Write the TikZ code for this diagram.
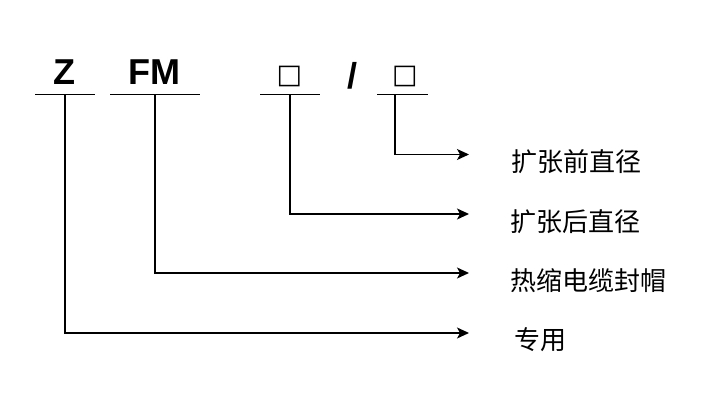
\documentclass[tikz,border=0pt]{standalone}
\usepackage{fontspec}
\setmainfont{Liberation Sans}
\newfontfamily\cjk{Noto Sans CJK SC}
\newfontfamily\symf{DejaVu Sans}
\usetikzlibrary{arrows.meta}
\begin{document}
\begin{tikzpicture}[x=1pt,y=-1pt,
  code/.style={inner sep=0pt, font=\fontsize{36}{36}\selectfont\bfseries},
  boxsym/.style={inner sep=0pt, font=\symf\fontsize{27}{27}\selectfont},
  label/.style={inner sep=0pt, anchor=west, font=\cjk\fontsize{26}{26}\selectfont},
  ln/.style={line width=1.3pt},
  arr/.style={line width=1.3pt, -{Stealth[length=12pt,width=11pt,inset=3pt]}}]
\useasboundingbox (0,0) rectangle (724,403);
% codes
\node[code] (z) at (64,72) {Z};
\node[code] (fm) at (154,72) {FM};
\node[boxsym] (b1) at (289.5,76) {□};
\node[code] (sl) at (352,76) {/};
\node[boxsym] (b2) at (405,76) {□};
% underlines
\coordinate (z1) at (35,94.5); \coordinate (z2) at (95,94.5);
\coordinate (f1) at (110,94.5); \coordinate (f2) at (200,94.5);
\coordinate (p1) at (260,94.5); \coordinate (p2) at (320,94.5);
\coordinate (q1) at (377,94.5); \coordinate (q2) at (428,94.5);
\draw[ln] (z1) -- (z2);
\draw[ln] (f1) -- (f2);
\draw[ln] (p1) -- (p2);
\draw[ln] (q1) -- (q2);
% labels
\node[label] (l1) at (511,162) {扩张前直径};
\node[label] (l2) at (510,222) {扩张后直径};
\node[label] (l3) at (510,281) {热缩电缆封帽};
\node[label] (l4) at (514,340) {专用};
% connectors
\coordinate (zt) at (65,94.5); \coordinate (zb) at (65,333); \coordinate (ze) at (469,333);
\coordinate (ft) at (155,94.5); \coordinate (fb) at (155,273); \coordinate (fe) at (469,273);
\coordinate (pt) at (290,94.5); \coordinate (pb) at (290,214); \coordinate (pe) at (469,214);
\coordinate (qt) at (395,94.5); \coordinate (qb) at (395,154.5); \coordinate (qe) at (469,154.5);
\draw[arr] (zt) -- (zb) -- (ze);
\draw[arr] (ft) -- (fb) -- (fe);
\draw[arr] (pt) -- (pb) -- (pe);
\draw[arr] (qt) -- (qb) -- (qe);
\end{tikzpicture}
\end{document}
